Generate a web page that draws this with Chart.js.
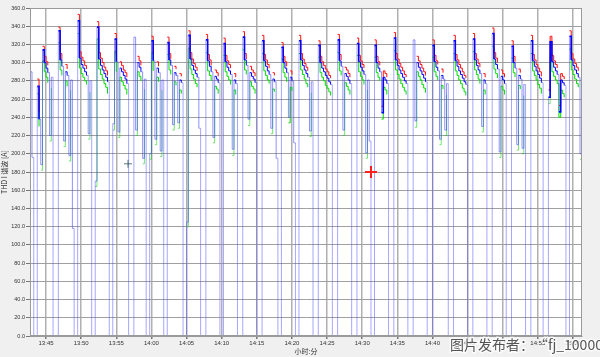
<!DOCTYPE html>
<html><head><meta charset="utf-8">
<script src="https://cdn.jsdelivr.net/npm/chart.js@4"></script>
<style>
html,body{margin:0;padding:0;background:#f0f0f0;}
#wrap{position:relative;width:600px;height:357px;}
</style></head><body>
<div id="wrap"><canvas id="c"></canvas></div>
<script>
// ---- data ----
const firstSample = '13:42:45';
const sampleSeconds = 15;
const axisStart = '13:42:43';
const axisEnd = '15:01:17';
const tickTimes = ['13:45','13:50','13:55','14:00','14:05','14:10','14:15','14:20','14:25','14:30','14:35','14:40','14:45','14:50','14:55','15:00'];
const yTicks = [0,20,40,60,80,100,120,140,160,180,200,220,240,260,280,300,320,340,360];

// blue (average)
const thdAvg = [
290,196,0,0,
274,238,188,314,300,294,289,220,284, 0,0,0,
335,303,296,214,290,286,198,281, 118,0,0,
346,305,298,294,290,286,222,280, 0,0,170,
339,304,297,292,288,284,279, 0,0,233,
326,301,224,294,290,286,282,277, 0,0,0,
328,226,300,295,290,195,282, 0,0,200,
324,302,216,294,289,203,281, 0,0,
322,303,297,232,289,286,234,281,278, 0,0,125,
330,304,297,292,288,284,228, 0,0,0,
325,302,296,290,218,285,282,278, 0,0,
321,301,295,291,287,205,281,277, 0,0,0,
328,303,297,238,289,285,282,278, 0,0,0,
324,302,296,291,287,228,282,279,195, 0,0,
317,300,294,289,240,284,280,212, 0,0,
324,303,297,292,288,284,225,279, 0,0,0,
319,300,294,290,286,283,279,276, 0,0,0,
325,302,296,226,288,285,281,277, 0,0,0,
321,301,295,291,287,201,281,214, 0,0,
319,300,294,290,245,284,281,277, 0,0,0,
327,303,297,292,288,284,280,277, 0,0,0,
325,236,300,295,291,287,283,279, 0,0,0,
319,301,295,291,216,286,282,226,277, 0,0,0,
324,302,296,291,287,283,279,276, 0,0,0,
326,303,297,292,288,230,281,277, 0,0,0,
332,304,298,293,202,285,281,277, 0,0,0,
318,300,294,210,286,282,206,276, 0,0,0,
324,302,296,291,287,283,278, 0,0,0,
262,323,301,295,291,287,246,281,278,275, 0,0,
329,303,297,292,288,284,200,280
];
// red (maximum)
const thdMax = [
297,204,0,0,
282,246,196,318,307,301,297,228,291, 0,0,0,
339,310,303,222,298,293,206,288, 124,0,0,
353,312,306,302,297,293,230,287, 0,0,176,
345,311,305,300,295,291,286, 0,0,240,
332,308,231,301,297,292,289,284, 0,0,0,
333,234,307,302,297,203,289, 0,0,206,
329,309,223,301,296,210,288, 0,0,
328,310,304,239,296,293,241,288,285, 0,0,130,
335,311,304,299,295,291,235, 0,0,0,
331,309,303,297,226,292,289,285, 0,0,
327,308,302,298,294,212,288,284, 0,0,0,
334,310,304,245,296,292,289,285, 0,0,0,
330,309,303,298,294,235,289,286,202, 0,0,
322,307,301,296,247,291,287,219, 0,0,
330,310,304,299,295,291,232,286, 0,0,0,
324,307,301,297,293,290,286,283, 0,0,0,
331,309,303,233,295,292,288,284, 0,0,0,
327,308,302,298,294,208,288,221, 0,0,
325,307,301,297,252,291,288,284, 0,0,0,
333,310,304,299,295,291,287,284, 0,0,0,
331,243,307,302,298,294,290,286, 0,0,0,
325,308,302,298,223,293,289,233,284, 0,0,0,
330,309,303,298,294,290,286,283, 0,0,0,
332,310,304,299,295,237,288,284, 0,0,0,
338,311,305,300,209,292,288,284, 0,0,0,
324,307,301,217,293,289,213,283, 0,0,0,
330,309,303,298,294,290,285, 0,0,0,
270,329,308,302,298,294,253,288,285,282, 0,0,
335,310,304,299,295,291,207,287
];
// green (minimum)
const thdMin = [
282,190,0,0,
266,230,182,302,290,284,278,214,272, 0,0,0,
322,292,286,208,280,274,192,270, 112,0,0,
332,294,288,284,280,276,216,268, 0,0,164,
326,293,287,282,277,273,266, 0,0,226,
312,290,218,284,279,275,271,265, 0,0,0,
314,220,290,285,280,189,271, 0,0,194,
311,291,210,284,279,197,270, 0,0,
309,292,287,226,279,275,228,270,266, 0,0,120,
316,293,287,282,277,273,222, 0,0,0,
311,291,286,280,212,274,271,266, 0,0,
308,290,285,281,276,198,270,265, 0,0,0,
314,292,287,231,279,274,271,266, 0,0,0,
310,291,286,281,277,222,271,268,189, 0,0,
304,289,284,279,234,273,269,206, 0,0,
310,292,287,282,277,273,219,267, 0,0,0,
306,289,284,280,275,272,268,264, 0,0,0,
311,291,286,220,278,274,270,265, 0,0,0,
308,290,285,281,276,195,270,208, 0,0,
306,289,284,280,238,273,270,265, 0,0,0,
313,292,287,282,277,273,269,265, 0,0,0,
311,229,290,285,281,276,272,267, 0,0,0,
306,290,285,281,210,275,271,220,265, 0,0,0,
310,291,286,281,277,272,268,264, 0,0,0,
312,292,287,282,277,224,270,265, 0,0,0,
318,293,288,283,196,274,270,265, 0,0,0,
305,289,284,204,275,271,200,264, 0,0,0,
310,291,286,281,276,272,266, 0,0,0,
255,309,290,285,281,277,240,270,266,262, 0,0,
315,292,287,282,277,273,194,268
];
// cursor markers
const cursorTimes = ['14:31:15','13:56:40'];
const cursorValues = [180,189];
const watermark = '图片发布者：\u201Cfj_10000';

// ---- helpers ----
function toMin(s){ const p=s.split(':').map(Number); return p[0]*60+p[1]+(p[2]||0)/60; }
function fmt(v){ const m=Math.round(v); const h=Math.floor(m/60), mm=m%60; return h+':'+String(mm).padStart(2,'0'); }
const t0 = toMin(firstSample);
const pts = vals => vals.map((v,i)=>({x: t0 + i*sampleSeconds/60, y: v}));
const y0 = c => c.p0.parsed.y, y1 = c => c.p1.parsed.y;
const touchesZero = c => y0(c) === 0 || y1(c) === 0;
const isDip = c => Math.abs(y1(c)-y0(c)) > 40 && Math.min(y0(c),y1(c)) < 262;
const isSpike = c => Math.abs(y1(c)-y0(c)) > 12;

const paint = {
  id:'paint',
  beforeDraw(chart){
    const {ctx, chartArea:a} = chart;
    ctx.save();
    ctx.fillStyle='#f0f0f0'; ctx.fillRect(0,0,chart.width,chart.height);
    ctx.fillStyle='#ffffff'; ctx.fillRect(a.left,a.top,a.right-a.left,a.bottom-a.top);
    ctx.restore();
  },
  afterDraw(chart){
    const {ctx, chartArea:a} = chart;
    ctx.save();
    ctx.strokeStyle='#9a9a9a'; ctx.lineWidth=1;
    ctx.strokeRect(a.left+0.5,a.top+0.5,a.right-a.left-1,a.bottom-a.top-1);
    ctx.font='14px "Noto Sans CJK SC"';
    ctx.textBaseline='middle';
    ctx.lineWidth=3; ctx.strokeStyle='rgba(255,255,255,0.75)';
    ctx.strokeText(watermark,450,345);
    ctx.fillStyle='#555555'; ctx.fillText(watermark,450,345);
    ctx.restore();
  }
};

const lineDs = (label,vals,color,order,seg)=>({label,data:pts(vals),borderColor:color,backgroundColor:color,borderWidth:1,stepped:true,pointRadius:0,fill:false,order,segment:seg});

new Chart(document.getElementById('c'),{
  type:'line',
  data:{datasets:[
    lineDs('THD I avg',thdAvg,'#0000ff',1,{
      borderColor:c=>touchesZero(c)?'rgba(80,80,255,0.5)':(isDip(c)?'rgba(70,70,255,0.6)':undefined),
      borderWidth:c=>(!touchesZero(c)&&!isDip(c)&&isSpike(c))?1.6:1}),
    lineDs('THD I max',thdMax,'#ff1010',2,{borderColor:c=>(touchesZero(c)||isDip(c))?'rgba(0,0,0,0)':undefined}),
    lineDs('THD I min',thdMin,'#00dd00',3,{borderColor:c=>touchesZero(c)?'rgba(0,0,0,0)':(isDip(c)?(y1(c)>y0(c)?'rgba(0,210,0,0.55)':'rgba(0,0,0,0)'):undefined)}),
    {type:'scatter',label:'cursor',data:[{x:toMin(cursorTimes[0]),y:cursorValues[0]}],pointStyle:'cross',pointRadius:6,borderColor:'#ff2020',borderWidth:2,order:0},
    {type:'scatter',label:'cursor2',data:[{x:toMin(cursorTimes[1]),y:cursorValues[1]}],pointStyle:'cross',pointRadius:4,borderColor:'rgba(40,80,80,0.75)',borderWidth:1,order:0}
  ]},
  options:{
    responsive:true, maintainAspectRatio:false, animation:false, devicePixelRatio:1,
    layout:{padding:{top:5,right:18,left:0,bottom:0}},
    plugins:{legend:{display:false},tooltip:{enabled:false}},
    scales:{
      x:{type:'linear',min:toMin(axisStart),max:toMin(axisEnd),
        afterBuildTicks:s=>{ s.ticks = tickTimes.map(t=>({value:toMin(t)})); },
        afterFit:s=>{ s.height=21; },
        ticks:{callback:v=>fmt(v),font:{size:6,family:'"Liberation Sans", Arial'},color:'#333',maxRotation:0,autoSkip:false,padding:1},
        grid:{color:'#b0b0b0',lineWidth:1.5,tickLength:3,tickColor:'#777'},
        border:{display:true,color:'#9a9a9a'},
        title:{display:true,text:'小时:分',font:{size:7,family:'"Noto Sans CJK SC"'},color:'#333',padding:{top:0,bottom:1}}
      },
      y:{min:0,max:360,
        afterBuildTicks:s=>{ s.ticks = yTicks.map(v=>({value:v})); },
        afterFit:s=>{ s.width=30; },
        ticks:{callback:v=>Number(v).toFixed(1),font:{size:5.5,family:'"Liberation Sans", Arial'},color:'#333',padding:1},
        grid:{color:'#a0a0a0',lineWidth:1,tickLength:4,tickColor:'#777'},
        border:{display:true,color:'#9a9a9a'},
        title:{display:true,text:'THD I 谐波 [A]',font:{size:7,family:'"Noto Sans CJK SC"'},color:'#333',padding:{top:0,bottom:1}}
      }
    }
  },
  plugins:[paint]
});
</script>
</body></html>
